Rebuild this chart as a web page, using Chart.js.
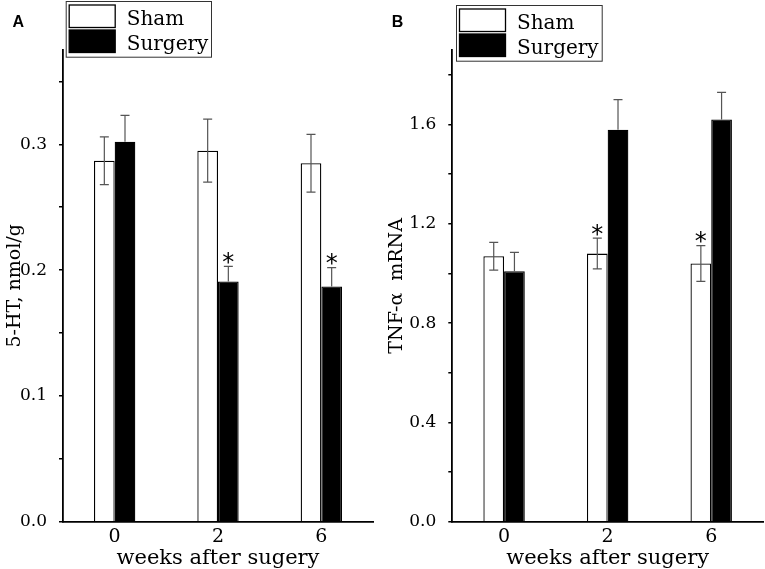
<!DOCTYPE html>
<html>
<head>
<meta charset="utf-8">
<script src="https://cdn.jsdelivr.net/npm/chart.js@4/dist/chart.umd.min.js"></script>
<style>
  html,body{margin:0;padding:0;background:#fff;}
  #wrap{position:relative;width:765px;height:569px;overflow:hidden;}
  canvas{position:absolute;top:0;}
</style>
</head>
<body>
<div id="wrap">
  <canvas id="cA" width="382" height="569" style="left:0"></canvas>
  <canvas id="cB" width="383" height="569" style="left:382px"></canvas>
</div>
<script>
// ---------- data ----------
const categories = ['0', '2', '6'];
const seriesNames = ['Sham', 'Surgery'];

// Panel A: 5-HT, nmol/g
const shamA    = [0.287, 0.295, 0.285];
const shamAErr = [0.019, 0.025, 0.023];
const surgA    = [0.302, 0.191, 0.187];
const surgAErr = [0.021, 0.012, 0.015];
const shamASig = [false, false, false];
const surgASig = [false, true, true];

// Panel B: TNF-α mRNA
const shamB    = [1.069, 1.080, 1.040];
const shamBErr = [0.056, 0.062, 0.072];
const surgB    = [1.009, 1.579, 1.620];
const surgBErr = [0.076, 0.121, 0.109];
const shamBSig = [false, true, true];
const surgBSig = [false, false, false];

// ---------- helpers ----------
const SERIF = '"DejaVu Serif", "Liberation Serif", serif';

const errorBarPlugin = {
  id: 'errorBars',
  afterDatasetsDraw(chart) {
    const ctx = chart.ctx;
    const ys = chart.scales.y;
    chart.data.datasets.forEach((ds, i) => {
      const meta = chart.getDatasetMeta(i);
      meta.data.forEach((bar, j) => {
        const v = ds.data[j], e = ds.errors[j];
        const x = bar.x;
        const yt = ys.getPixelForValue(v + e);
        const yb = ys.getPixelForValue(ds.errDown ? v - e : v);
        ctx.save();
        ctx.strokeStyle = '#555';
        ctx.lineWidth = 1.2;
        ctx.beginPath();
        ctx.moveTo(x, yt); ctx.lineTo(x, yb);
        ctx.moveTo(x - 4.5, yt); ctx.lineTo(x + 4.5, yt);
        if (ds.errDown) { ctx.moveTo(x - 4.5, yb); ctx.lineTo(x + 4.5, yb); }
        ctx.stroke();
        if (ds.sig[j]) {
          ctx.fillStyle = '#000';
          ctx.font = '24px "DejaVu Sans", sans-serif';
          ctx.textAlign = 'center';
          ctx.textBaseline = 'alphabetic';
          const m = ctx.measureText('*');
          const centerY = yt - 8.5;
          const base = centerY + (m.actualBoundingBoxAscent - m.actualBoundingBoxDescent) / 2;
          ctx.fillText('*', x, base);
        }
        ctx.restore();
      });
    });
  }
};

const legendPlugin = {
  id: 'boxLegend',
  afterDraw(chart, args, opts) {
    const ctx = chart.ctx;
    const o = opts;
    ctx.save();
    ctx.strokeStyle = '#333';
    ctx.lineWidth = 1;
    ctx.fillStyle = '#fff';
    ctx.fillRect(o.x, o.y, o.w, o.h);
    ctx.strokeRect(o.x + 0.5, o.y + 0.5, o.w, o.h);
    chart.data.datasets.forEach((ds, i) => {
      const sy = o.y + 4 + i * 25;
      ctx.fillStyle = ds.backgroundColor;
      ctx.fillRect(o.x + 3.5, sy, 46, 22.5);
      ctx.strokeStyle = '#000';
      ctx.lineWidth = 1.3;
      ctx.strokeRect(o.x + 3.5, sy, 46, 22.5);
      ctx.fillStyle = '#000';
      ctx.font = '20px ' + SERIF;
      ctx.textAlign = 'left';
      ctx.textBaseline = 'alphabetic';
      ctx.fillText(ds.label, o.x + 61, sy + 19.5);
    });
    // panel letter
    ctx.font = 'bold 16px "Liberation Sans", Arial, sans-serif';
    ctx.fillStyle = '#000';
    ctx.fillText(o.letter, o.lx, 27);
    ctx.restore();
  }
};

function makeChart(canvasId, sham, shamErr, shamSig, surg, surgErr, surgSig,
                   yMax, yStep, labelStep, yTitle, yWidth, padRight, legendPos) {
  return new Chart(document.getElementById(canvasId), {
    type: 'bar',
    data: {
      labels: categories,
      datasets: [
        { label: seriesNames[0], data: sham, errors: shamErr, sig: shamSig, errDown: true,
          backgroundColor: '#ffffff', borderColor: '#000', borderWidth: 1.3, borderSkipped: 'bottom' },
        { label: seriesNames[1], data: surg, errors: surgErr, sig: surgSig, errDown: false,
          backgroundColor: '#000000', borderColor: '#000', borderWidth: 1.3, borderSkipped: 'bottom' }
      ]
    },
    options: {
      responsive: false,
      animation: false,
      devicePixelRatio: 1,
      layout: { padding: { left: 0, right: padRight, top: 50, bottom: 0 } },
      datasets: { bar: { categoryPercentage: 0.4, barPercentage: 1.0 } },
      plugins: {
        legend: { display: false },
        tooltip: { enabled: false },
        boxLegend: legendPos
      },
      scales: {
        x: {
          offset: true,
          grid: { display: false, drawTicks: false },
          border: { display: true, color: '#000', width: 1.8 },
          ticks: { color: '#000', font: { family: SERIF, size: 19 }, padding: 4, maxRotation: 0 },
          title: { display: true, text: 'weeks after sugery', color: '#000',
                   font: { family: SERIF, size: 21, lineHeight: 1 }, padding: { top: 0, bottom: 0 } },
          afterFit(s) { s.height = 47.3; }
        },
        y: {
          min: 0, max: yMax,
          grid: { drawOnChartArea: false, drawTicks: true, tickLength: 4, color: '#000', lineWidth: 1.5 },
          border: { display: true, color: '#000', width: 1.8 },
          ticks: {
            stepSize: yStep, includeBounds: false, color: '#000', padding: 12,
            font: { family: SERIF, size: 17 },
            callback(v) {
              const r = v / labelStep;
              return Math.abs(r - Math.round(r)) < 1e-6 ? v.toFixed(1) : '';
            }
          },
          title: { display: true, text: yTitle, color: '#000',
                   font: { family: SERIF, size: 19, lineHeight: 1 }, padding: { top: 5.5, bottom: 0 } },
          afterFit(s) { s.width = yWidth; }
        }
      }
    },
    plugins: [errorBarPlugin, legendPlugin]
  });
}

makeChart('cA', shamA, shamAErr, shamASig, surgA, surgAErr, surgASig,
          0.375, 0.05, 0.1, '5-HT, nmol/g', 63, 9,
          { x: 65.7, y: 1, w: 145.3, h: 55.7, letter: 'A', lx: 12.5 });
makeChart('cB', shamB, shamBErr, shamBSig, surgB, surgBErr, surgBSig,
          1.9, 0.2, 0.4, 'TNF-α  mRNA', 70.3, 2,
          { x: 74, y: 5, w: 145.7, h: 55.7, letter: 'B', lx: 9.7 });
</script>
</body>
</html>
